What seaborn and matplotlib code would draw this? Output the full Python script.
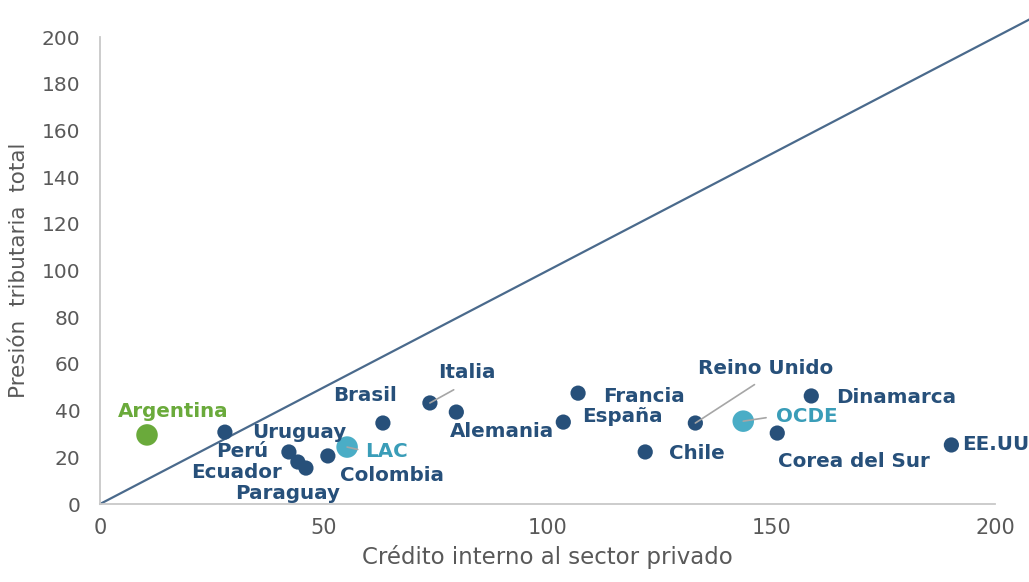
import numpy as np
import pandas as pd
import matplotlib
matplotlib.use("Agg")
import matplotlib.pyplot as plt
import seaborn as sns

# ---- data ----
paises = ["Argentina", "Uruguay", "Perú", "Ecuador", "Paraguay", "Colombia", "LAC",
          "Brasil", "Italia", "Alemania", "España", "Francia", "Chile", "Reino Unido",
          "OCDE", "Corea del Sur", "Dinamarca", "EE.UU"]
credito = [10.5, 27.9, 42.2, 44.2, 46.0, 50.9, 55.2,
           63.2, 73.7, 79.6, 103.5, 106.8, 121.8, 133.0,
           143.7, 151.3, 158.9, 190.2]
presion = [29.6, 30.8, 22.3, 18.0, 15.4, 20.6, 24.4,
           34.7, 43.3, 39.4, 35.1, 47.5, 22.3, 34.7,
           35.5, 30.4, 46.3, 25.3]
grupo = ["Argentina", "País", "País", "País", "País", "País", "Promedio",
         "País", "País", "País", "País", "País", "País", "País",
         "Promedio", "País", "País", "País"]
x_ticks = [0, 50, 100, 150, 200]
y_ticks = [0, 20, 40, 60, 80, 100, 120, 140, 160, 180, 200]

df = pd.DataFrame({"pais": paises, "credito": credito, "presion": presion, "grupo": grupo})

# ---- style ----
NAVY = "#27507A"
GREEN = "#6AAA3B"
LBLUE = "#4AADC6"
TICK = "#595959"
AXIS = "#C8C8C8"

sns.set_theme(style="white")
plt.rcParams["font.family"] = ["DejaVu Sans"]

fig = plt.figure(figsize=(10.29, 5.82), dpi=100)
ax = fig.add_axes([0.0972, 0.134, 0.870, 0.802])

# diagonal 45° line (extends beyond the plot area)
ax.plot([0, 212], [0, 212], color="#4A6A8C", lw=1.6, clip_on=False, zorder=1)

sns.scatterplot(data=df, x="credito", y="presion", hue="grupo", size="grupo",
                palette={"Argentina": GREEN, "País": NAVY, "Promedio": LBLUE},
                sizes={"Argentina": 240, "País": 120, "Promedio": 240},
                edgecolor="none", linewidth=0, legend=False, ax=ax, zorder=3)

ax.set_xlim(0, 200)
ax.set_ylim(0, 200)
ax.set_xticks(x_ticks)
ax.set_yticks(y_ticks)
ax.tick_params(axis="x", colors=TICK, labelsize=15, length=0, pad=10)
ax.tick_params(axis="y", colors=TICK, labelsize=14.5, length=0, pad=14)
for s in ["top", "right"]:
    ax.spines[s].set_visible(False)
for s in ["left", "bottom"]:
    ax.spines[s].set_color(AXIS)
    ax.spines[s].set_linewidth(1.3)

ax.set_xlabel("Crédito interno al sector privado", color=TICK, fontsize=16.5, labelpad=5)
ax.set_ylabel("Presión  tributaria  total", color=TICK, fontsize=15.5, labelpad=9)

# label placement: (dx, dy) in pixels, ha, leader-line spec
layout = {
    "Argentina": (26, 23, "center", None),
    "Uruguay": (27, 0, "left", None),
    "Perú": (-21, 0, "right", None),
    "Ecuador": (-16, -10, "right", None),
    "Paraguay": (-18, -25, "center", None),
    "Colombia": (64, -20, "center", None),
    "LAC": (18, -4, "left", ((0, 0.5), 3)),
    "Brasil": (-18, 28, "center", None),
    "Italia": (37, 30, "center", ((0.5, 0), 6)),
    "Alemania": (46, -19, "center", None),
    "España": (19, 6, "left", None),
    "Francia": (25, -3, "left", None),
    "Chile": (24, -2, "left", None),
    "Reino Unido": (70, 55, "center", ((0.5, 0), 5)),
    "OCDE": (33, 5, "left", ((0, 0.5), 5)),
    "Corea del Sur": (77, -28, "center", None),
    "Dinamarca": (25, -2, "left", None),
    "EE.UU": (11, 0, "left", None),
}
colors = {"Argentina": GREEN, "País": NAVY, "Promedio": "#3A9DB8"}

for p, xv, yv, g in zip(paises, credito, presion, grupo):
    dx, dy, ha, leader = layout[p]
    kw = {}
    if leader is not None:
        relpos, shrink = leader
        kw["arrowprops"] = dict(arrowstyle="-", color="#A6A6A6", lw=1.2,
                                shrinkA=shrink, shrinkB=0, relpos=relpos)
    ax.annotate(p, xy=(xv, yv), xytext=(dx, dy), textcoords="offset pixels",
                ha=ha, va="center", fontsize=14.3, fontweight="bold",
                color=colors[g], annotation_clip=False, zorder=4, **kw)

fig.savefig("out.png", dpi=100)
